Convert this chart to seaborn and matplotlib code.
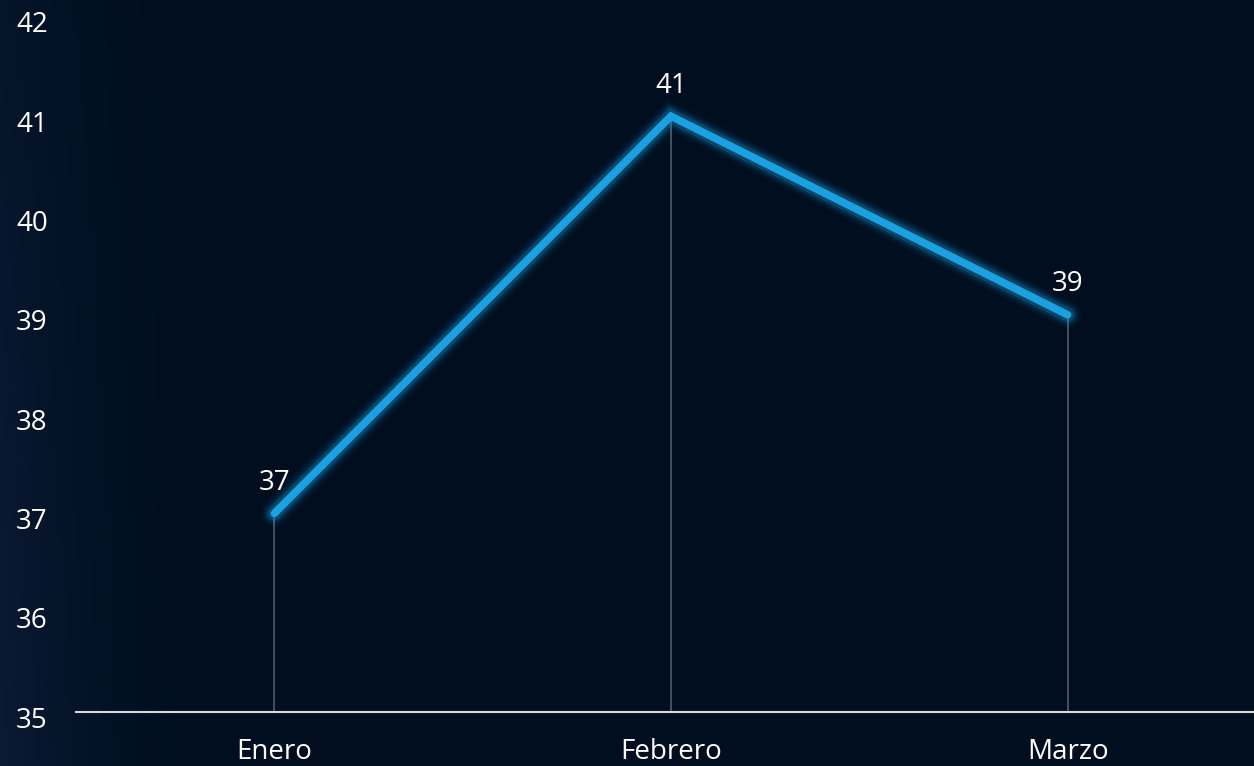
import numpy as np
import pandas as pd
import matplotlib
matplotlib.use("Agg")
import matplotlib.pyplot as plt
import matplotlib.transforms as mtransforms
import seaborn as sns

months = ["Enero", "Febrero", "Marzo"]
values = [37, 41, 39]
yticks = [35, 36, 37, 38, 39, 40, 41, 42]

sns.set_theme(style="white")
plt.rcParams['font.family'] = ['Open Sans', 'DejaVu Sans']

W, H, DPI = 1254, 766, 100
fig = plt.figure(figsize=(W / DPI, H / DPI), dpi=DPI)
fig.patch.set_facecolor("#000e20")

# background gradient (slightly lighter at left edge)
bg = fig.add_axes([0, 0, 1, 1], zorder=0)
xs = np.linspace(0, 1, 400)
ys = np.linspace(0, 1, 200)
X, Y = np.meshgrid(xs, ys)
base = np.array([0x00, 0x0e, 0x20]) / 255
light = np.array([0x0b, 0x1b, 0x33]) / 255
t = np.clip(1 - X / 0.18, 0, 1) ** 2.0 * (0.5 + 0.5 * Y)
img = base[None, None, :] + (light - base)[None, None, :] * t[..., None]
bg.imshow(img, extent=[0, 1, 0, 1], aspect="auto", origin="upper")
bg.axis("off")

ax = fig.add_axes([76 / W, (H - 712) / H, 1 - 76 / W, 712 / H], zorder=1)
ax.set_facecolor("none")

df = pd.DataFrame({"month": months, "value": values})
xpos = np.arange(len(months))

# drop lines
for xi, v in zip(xpos, values):
    ax.plot([xi, xi], [35, v], color="#4a5566", lw=1.3, zorder=2)

# glow
for lw, a in [(20, 0.04), (16, 0.07), (13, 0.12), (10, 0.22)]:
    ax.plot(xpos, values, color="#1ba1e2", lw=lw, alpha=a,
            solid_capstyle="round", solid_joinstyle="miter", zorder=3)

sns.lineplot(data=df, x="month", y="value", ax=ax, color="#1ba1e2",
             linewidth=5.5, sort=False, zorder=4)
for l in ax.lines[-1:]:
    l.set_solid_capstyle("round")
    l.set_solid_joinstyle("miter")

for xi, v in zip(xpos, values):
    ax.annotate(str(v), (xi, v), xytext=(0, 12), textcoords="offset points",
                ha="center", va="bottom", color="white", fontsize=20)

ax.set_xlim(-0.5, 2.47)
ax.set_ylim(35, 35 + 712 / 99.3)
ax.set_yticks(yticks)
ax.set_yticklabels([str(v) for v in yticks])
ax.set_xticks(xpos)
ax.set_xticklabels(months)
ax.tick_params(axis="y", colors="white", labelsize=20, length=0, pad=43)
ax.tick_params(axis="x", colors="white", labelsize=20, length=0, pad=19)
shift = mtransforms.ScaledTranslation(0, -5 / DPI, fig.dpi_scale_trans)
for lab in ax.get_yticklabels():
    lab.set_horizontalalignment("left")
    lab.set_transform(lab.get_transform() + shift)
ax.set_xlabel("")
ax.set_ylabel("")
for s in ["top", "right", "left"]:
    ax.spines[s].set_visible(False)
ax.spines["bottom"].set_color("#d8d8d8")
ax.spines["bottom"].set_linewidth(1.5)
ax.grid(False)

fig.savefig("out.png", dpi=DPI, facecolor=fig.get_facecolor())
